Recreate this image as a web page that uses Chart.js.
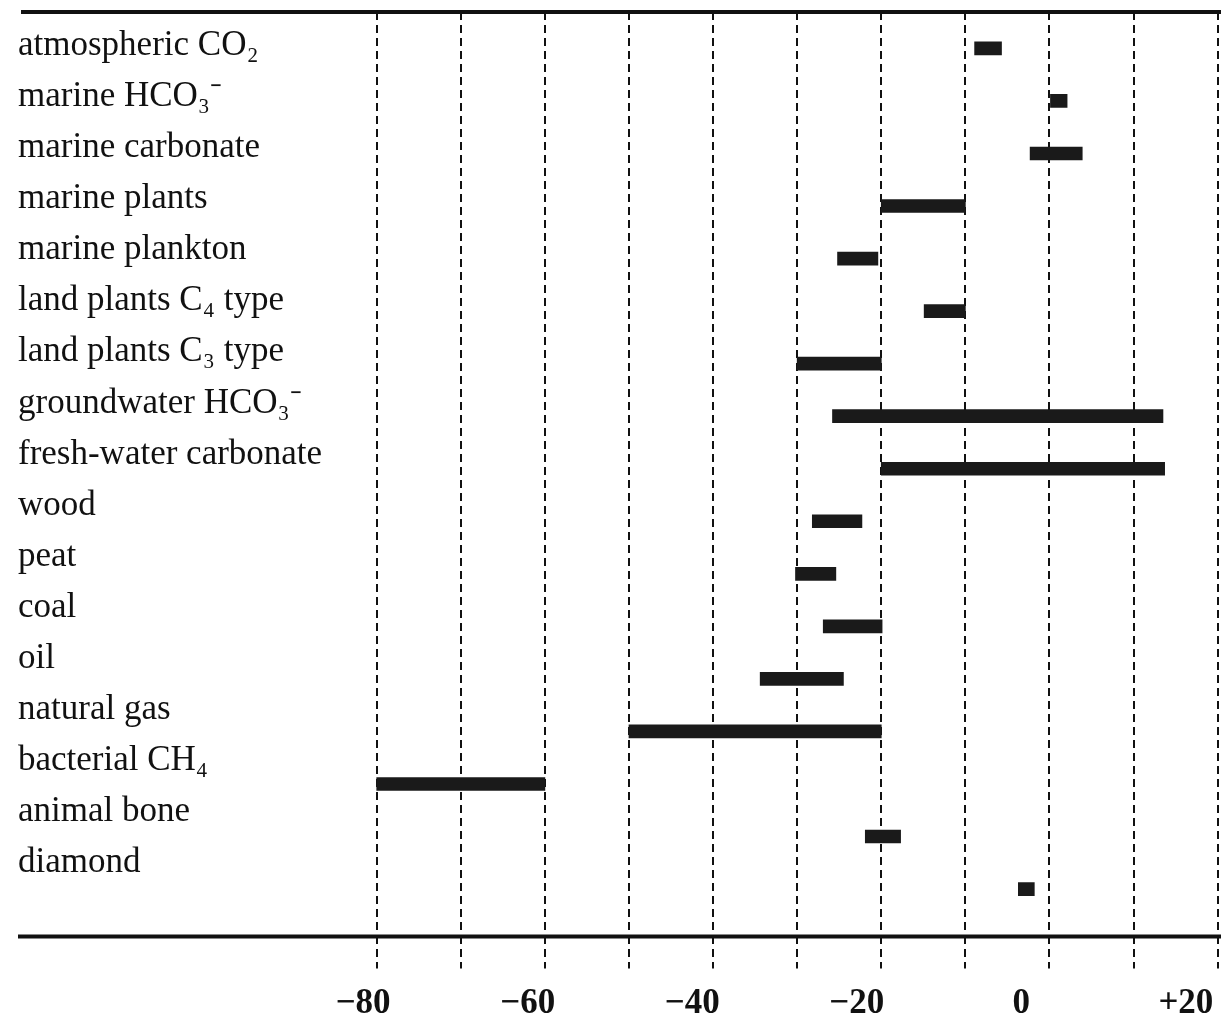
<!DOCTYPE html>
<html>
<head>
<meta charset="utf-8">
<title>Carbon isotope ranges</title>
<script src="https://cdn.jsdelivr.net/npm/chart.js@4.4.1/dist/chart.umd.min.js"></script>
<style>
  html, body { margin: 0; padding: 0; background: #fff; }
  canvas { display: block; }
</style>
</head>
<body>
<canvas id="myChart" width="1221" height="1018"></canvas>
<script>
const categories = [
  "atmospheric CO\u2082",
  "marine HCO\u2083\u207B",
  "marine carbonate",
  "marine plants",
  "marine plankton",
  "land plants C\u2084 type",
  "land plants C\u2083 type",
  "groundwater HCO\u2083\u207B",
  "fresh-water carbonate",
  "wood",
  "peat",
  "coal",
  "oil",
  "natural gas",
  "bacterial CH\u2084",
  "animal bone",
  "diamond"
];
const lowValues  = [-8.9, 0.0, -2.3, -20.0, -25.2, -14.9, -30.0, -25.8, -20.0, -28.2, -30.2, -26.9, -34.4, -50.0, -80.0, -21.9, -3.7];
const highValues = [-5.7, 2.1,  3.9, -10.0, -20.4, -10.0, -20.0,  13.5,  13.7, -22.3, -25.4, -19.9, -24.5, -20.0, -60.0, -17.7, -1.8];
const gridValues = [-80, -70, -60, -50, -40, -30, -20, -10, 0, 10, 20];
const tickValues = [-80, -60, -40, -20, 0, 20];
const tickLabels = ["\u221280", "\u221260", "\u221240", "\u221220", "0", "+20"];

const serif = "'Liberation Serif', 'Times New Roman', serif";

// the two solid rules above and below the plot
const frameLines = {
  id: 'frameLines',
  afterDatasetsDraw(chart) {
    const { ctx, chartArea } = chart;
    ctx.save();
    ctx.strokeStyle = '#111';
    ctx.lineWidth = 4;
    ctx.beginPath();
    ctx.moveTo(21, chartArea.top);
    ctx.lineTo(chart.width, chartArea.top);
    ctx.moveTo(18, chartArea.bottom);
    ctx.lineTo(chart.width, chartArea.bottom);
    ctx.stroke();
    ctx.restore();
  }
};

new Chart("myChart", {
  type: "bar",
  data: {
    datasets: [{
      data: categories.map((c, i) => ({ x: [lowValues[i], highValues[i]], y: i })),
      xAxisID: "x",
      yAxisID: "y",
      backgroundColor: "#1a1a1a",
      barThickness: 13,
      borderSkipped: false
    }]
  },
  options: {
    indexAxis: "y",
    responsive: false,
    animation: false,
    devicePixelRatio: 1,
    layout: { padding: { top: 12, left: 0, right: 0, bottom: -21 } },
    plugins: {
      legend: { display: false },
      tooltip: { enabled: false }
    },
    scales: {
      // bars sit on this one
      y: {
        type: "linear", axis: "y", reverse: true, offset: false,
        min: -0.693, max: 16.903,
        display: false
      },
      // row names, spaced a little tighter than the bars
      yl: {
        type: "linear", axis: "y", position: "left", reverse: true, offset: false,
        min: -0.659, max: 17.433,
        afterBuildTicks: (axis) => { axis.ticks = categories.map((c, i) => ({ value: i })); },
        grid: { display: false, drawTicks: false, offset: false },
        border: { display: false },
        ticks: {
          mirror: true, padding: 6, autoSkip: false, color: "#111",
          font: { family: serif, size: 35, lineHeight: 0.3 },
          callback: (v) => categories[v]
        }
      },
      // dashed grid every 10
      x: {
        type: "linear", axis: "x", position: "bottom", weight: 1, offset: false,
        min: -123.37, max: 20.40,
        afterBuildTicks: (axis) => { axis.ticks = gridValues.map((v) => ({ value: v })); },
        grid: { color: "#111", lineWidth: 2, tickLength: 32, tickBorderDash: [8, 5] },
        border: { display: false, dash: [8, 5] },
        ticks: { display: false }
      },
      // bold numbers under the axis
      xl: {
        type: "linear", axis: "x", position: "bottom", weight: 2, offset: false,
        min: -122.68, max: 24.27,
        afterBuildTicks: (axis) => { axis.ticks = tickValues.map((v) => ({ value: v })); },
        grid: { display: false, drawTicks: false },
        border: { display: false },
        ticks: {
          padding: 4, autoSkip: false, maxRotation: 0, color: "#111",
          font: { family: serif, size: 35, weight: "bold", lineHeight: 1.786 },
          callback: (v) => tickLabels[tickValues.indexOf(v)]
        }
      }
    }
  },
  plugins: [frameLines]
});
</script>
</body>
</html>
